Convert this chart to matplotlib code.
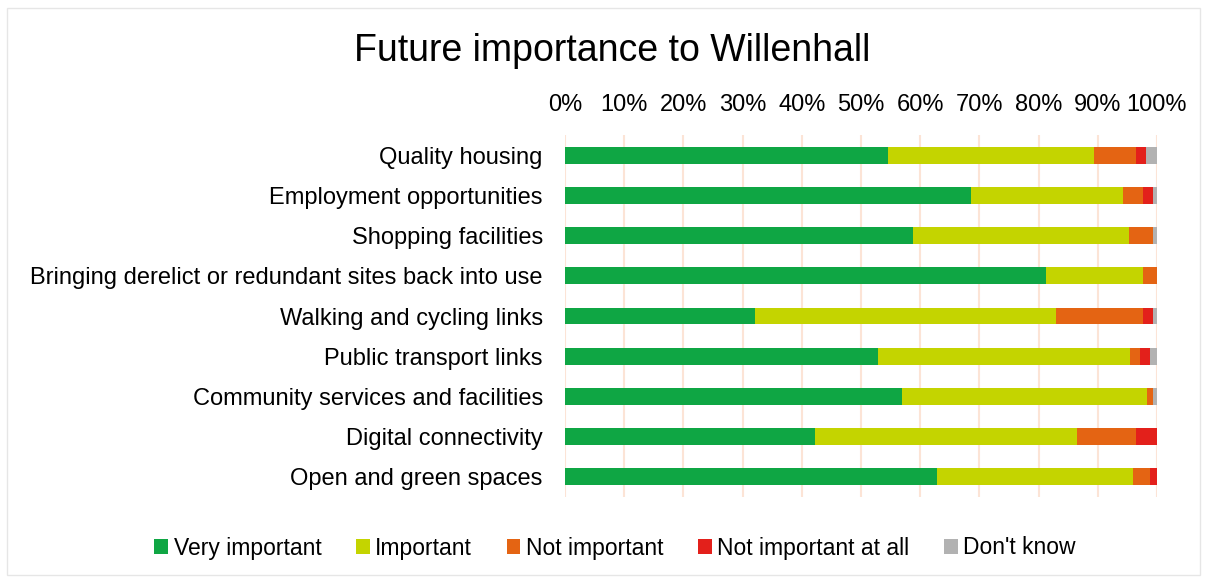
import matplotlib.pyplot as plt
import numpy as np

plt.rcParams['font.family'] = ['Liberation Sans', 'DejaVu Sans']

categories = ['Quality housing', 'Employment opportunities', 'Shopping facilities',
              'Bringing derelict or redundant sites back into use',
              'Walking and cycling links', 'Public transport links',
              'Community services and facilities', 'Digital connectivity',
              'Open and green spaces']
series = ['Very important', 'Important', 'Not important', 'Not important at all', "Don't know"]

very_important = [54.6, 68.6, 58.8, 81.2, 32.1, 52.8, 57.0, 42.2, 62.9]
important = [34.8, 25.6, 36.5, 16.5, 50.9, 42.6, 41.3, 44.3, 33.0]
not_important = [7.1, 3.5, 4.1, 2.3, 14.7, 1.8, 1.1, 10.0, 3.0]
not_at_all = [1.7, 1.7, 0.0, 0.0, 1.7, 1.6, 0.0, 3.5, 1.1]
dont_know = [1.8, 0.6, 0.6, 0.0, 0.6, 1.2, 0.6, 0.0, 0.0]

colors = ['#0FA644', '#C4D400', '#E46413', '#E3201B', '#B2B2B2']

fig = plt.figure(figsize=(12.05, 5.77), dpi=100)
ax = fig.add_axes([565 / 1205, 1 - 497 / 577, 592 / 1205, 362 / 577])

y = np.arange(len(categories))
left = np.zeros(len(categories))
for name, vals, c in zip(series, [very_important, important, not_important, not_at_all, dont_know], colors):
    vals = np.array(vals)
    ax.barh(y, vals, left=left, height=0.42, color=c, label=name, zorder=3)
    left += vals

ax.set_xlim(0, 100)
ax.set_ylim(len(categories) - 0.5, -0.5)
ax.set_yticks(y)
ax.set_yticklabels(categories, fontsize=17)
ax.set_xticks(np.arange(0, 101, 10))
ax.set_xticklabels([f'{v}%' for v in range(0, 101, 10)], fontsize=17)
ax.xaxis.tick_top()
ax.tick_params(axis='x', length=0, pad=14)
ax.tick_params(axis='y', length=0, pad=16)
ax.grid(axis='x', color='#FCE4D6', linewidth=1.5, zorder=0)
for s in ax.spines.values():
    s.set_visible(False)

fig.suptitle('Future importance to Willenhall', fontsize=27, x=612 / 1205, y=1 - 33 / 577, va='top')

fig.legend(loc='center', bbox_to_anchor=(615 / 1205, 1 - 548 / 577), ncol=5, frameon=False,
           fontsize=16.5, handlelength=0.6, handleheight=0.6, handletextpad=0.25, columnspacing=1.5)

fig.patches.append(plt.Rectangle((0.006, 0.003), 0.99, 0.984, transform=fig.transFigure,
                                 fill=False, edgecolor='#E6E6E6', linewidth=1))

fig.savefig('out.png', dpi=100)
